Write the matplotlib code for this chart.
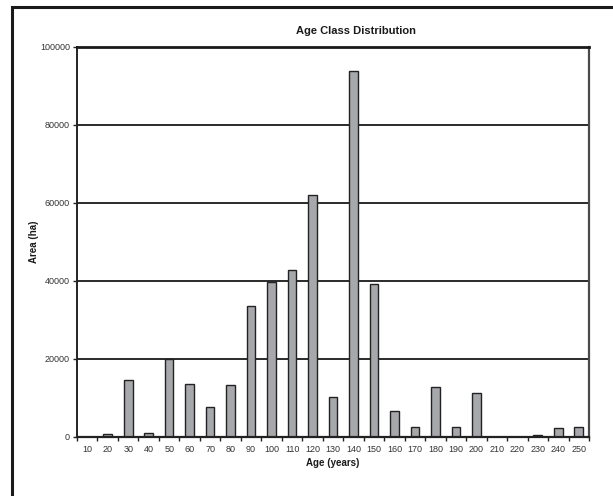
import matplotlib.pyplot as plt
from matplotlib.patches import Rectangle

# Age classes (years) and area (ha)
ages = [10, 20, 30, 40, 50, 60, 70, 80, 90, 100, 110, 120, 130,
        140, 150, 160, 170, 180, 190, 200, 210, 220, 230, 240, 250]
area = [0, 650, 14650, 880, 20000, 13600, 7500, 13150, 33600, 39650,
        42800, 62100, 10100, 93800, 39150, 6600, 2560, 12650, 2400,
        11080, 0, 0, 330, 2150, 2550]
yticks = [0, 20000, 40000, 60000, 80000, 100000]

W, H = 613, 496
fig = plt.figure(figsize=(W / 100, H / 100), dpi=100)
plt.rcParams['font.family'] = ['Liberation Sans', 'DejaVu Sans']

# outer frame (runs off the right and bottom edges)
fig.patches.append(Rectangle((11.5 / W, -0.1), 1.0, 1 - 6.7 / H + 0.1,
                             transform=fig.transFigure, fill=False,
                             edgecolor='#1a1a1a', linewidth=2.2))

left, right, top, bottom = 77, 589, 46.7, 436.7
ax = fig.add_axes([left / W, 1 - bottom / H, (right - left) / W, (bottom - top) / H])

x = list(range(len(ages)))
ax.bar(x, area, width=0.42, color='#a7a8ac', edgecolor='#222222', linewidth=1.0, zorder=3)

ax.set_xlim(-0.5, len(ages) - 0.5)
ax.set_ylim(0, 100000)
ax.set_yticks(yticks)
ax.set_yticklabels([str(v) for v in yticks], fontsize=6.5, color='#333333')
ax.set_xticks(x)
ax.set_xticklabels([str(a) for a in ages], fontsize=6.5, color='#333333')
ax.tick_params(axis='x', length=0, pad=6)
ax.tick_params(axis='y', length=3, width=1, color='#222222', pad=2)

# small category-boundary ticks under the x axis
ax.set_xticks([i - 0.5 for i in range(len(ages) + 1)], minor=True)
ax.tick_params(axis='x', which='minor', length=3, width=1, color='#222222', direction='out')

for v in yticks[1:-1]:
    ax.axhline(v, color='#2a2a2a', linewidth=1.4, zorder=1)

ax.spines['top'].set_linewidth(2.0)
ax.spines['top'].set_color('#1a1a1a')
ax.spines['right'].set_linewidth(1.6)
ax.spines['right'].set_color('#4a4a4a')
ax.spines['left'].set_linewidth(1.4)
ax.spines['left'].set_color('#222222')
ax.spines['bottom'].set_linewidth(1.6)
ax.spines['bottom'].set_color('#222222')
ax.spines['bottom'].set_zorder(4)

fig.text(356 / W, 1 - 31 / H, 'Age Class Distribution', ha='center', va='center',
         fontsize=8, fontweight='bold', color='#1a1a1a')
fig.text(333 / W, 1 - 463 / H, 'Age (years)', ha='center', va='center',
         fontsize=7, fontweight='bold', color='#1a1a1a')
fig.text(34 / W, 1 - 242 / H, 'Area (ha)', ha='center', va='center', rotation=90,
         fontsize=7, fontweight='bold', color='#1a1a1a')

fig.savefig('out.png', dpi=100)
